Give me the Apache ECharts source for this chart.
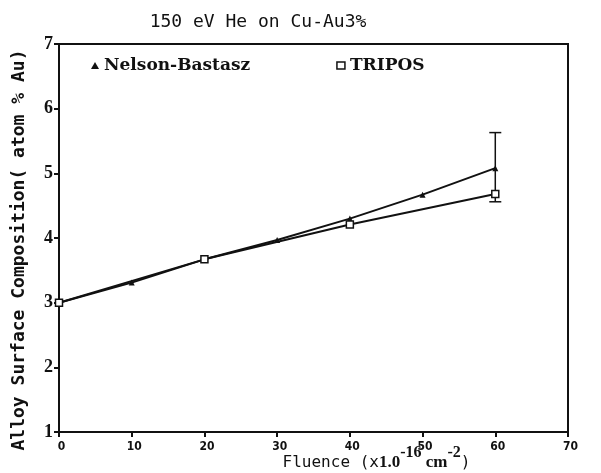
<!DOCTYPE html>
<html>
<head>
<meta charset="utf-8">
<script src="https://cdn.jsdelivr.net/npm/echarts@6/dist/echarts.min.js"></script>
<style>
  html, body { margin: 0; padding: 0; background: #fff; }
  #chart { width: 601px; height: 473px; }
</style>
</head>
<body>
<div id="chart"></div>
<script>
// Data
const nelsonFluence = [0, 10, 20, 30, 40, 50, 60];
const nelsonAu = [3.0, 3.31, 3.67, 3.97, 4.3, 4.67, 5.08];
const triposFluence = [0, 20, 40, 60];
const triposAu = [3.0, 3.67, 4.21, 4.68];
// error bar at the last point (low, high)
const errFluence = [60];
const errLow = [4.56];
const errHigh = [5.63];

const mono = '"DejaVu Sans Mono", monospace';
const serif = '"Liberation Serif", serif';

const chart = echarts.init(document.getElementById('chart'));

const option = {
    backgroundColor: '#fff',
    animation: false,
    title: {
        text: '150 eV He on Cu-Au3%',
        left: 253,
        textAlign: 'center',
        top: 8,
        textStyle: { fontFamily: mono, fontSize: 18, fontWeight: 'normal', color: '#111' }
    },
    legend: {
        left: 86,
        top: 52,
        itemGap: 86,
        itemWidth: 8,
        itemHeight: 7,
        textStyle: { fontFamily: '"DejaVu Serif", serif', fontSize: 17, fontWeight: 'bold', color: '#111' },
        data: [
            { name: 'Nelson-Bastasz', icon: 'triangle' },
            { name: 'TRIPOS', icon: 'rect', itemStyle: { color: '#fff', borderColor: '#111', borderWidth: 1.5 } }
        ]
    },
    grid: { left: 59, right: 33, top: 44, bottom: 41, outerBoundsMode: 'none', containLabel: false },
    xAxis: {
        type: 'value',
        min: 0, max: 70, interval: 10,
        name: '{a|Fluence (x}{b|1.0}{s|-16}{b| cm}{s|-2}{a|)}',
        nameLocation: 'middle',
        nameGap: 13,
        nameMoveOverlap: false,
        nameTextStyle: {
            padding: [0, 0, 0, 126],
            rich: {
                a: { fontFamily: mono, fontSize: 16, color: '#111', verticalAlign: 'bottom' },
                b: { fontFamily: serif, fontSize: 17, fontWeight: 'bold', color: '#111', verticalAlign: 'bottom' },
                s: { fontFamily: serif, fontSize: 16, fontWeight: 'bold', color: '#111', verticalAlign: 'top', padding: [0, 0, 10, 0] }
            }
        },
        axisLine: { show: true, lineStyle: { color: '#111', width: 2 } },
        axisTick: { show: true, inside: false, length: 5, lineStyle: { color: '#111', width: 2 } },
        axisLabel: { fontFamily: '"DejaVu Sans Condensed", "DejaVu Sans Mono", monospace', fontSize: 12, fontWeight: 'bold', color: '#111', margin: 9, padding: [0, 0, 0, 5] },
        splitLine: { show: false }
    },
    yAxis: {
        type: 'value',
        min: 1, max: 7, interval: 1,
        name: 'Alloy Surface Composition( atom % Au)',
        nameLocation: 'middle',
        nameGap: 31,
        nameMoveOverlap: false,
        nameTextStyle: { fontFamily: mono, fontSize: 18, fontWeight: 'bold', color: '#111', padding: [0, 24, 0, 0] },
        axisLine: { show: true, lineStyle: { color: '#111', width: 2 } },
        axisTick: { show: true, length: 5, lineStyle: { color: '#111', width: 2 } },
        axisLabel: { fontFamily: serif, fontSize: 18, fontWeight: 'bold', color: '#111', margin: 6 },
        splitLine: { show: false }
    },
    series: [
        {
            name: 'Nelson-Bastasz',
            type: 'line',
            data: nelsonFluence.map((x, i) => [x, nelsonAu[i]]),
            symbol: 'triangle',
            symbolSize: 6,
            showAllSymbol: true,
            lineStyle: { color: '#111', width: 2 },
            itemStyle: { color: '#111' }
        },
        {
            name: 'TRIPOS',
            type: 'line',
            data: triposFluence.map((x, i) => [x, triposAu[i]]),
            symbol: 'rect',
            symbolSize: 7,
            lineStyle: { color: '#111', width: 2 },
            itemStyle: { color: '#fff', borderColor: '#111', borderWidth: 1.5 }
        },
        {
            name: 'error',
            type: 'custom',
            data: errFluence.map((x, i) => [x, errLow[i], errHigh[i]]),
            renderItem: function (params, api) {
                const lo = api.coord([api.value(0), api.value(1)]);
                const hi = api.coord([api.value(0), api.value(2)]);
                const w = 6;
                const st = { stroke: '#111', lineWidth: 1.5 };
                return {
                    type: 'group',
                    children: [
                        { type: 'line', shape: { x1: lo[0], y1: lo[1], x2: hi[0], y2: hi[1] }, style: st },
                        { type: 'line', shape: { x1: lo[0] - w, y1: lo[1], x2: lo[0] + w, y2: lo[1] }, style: st },
                        { type: 'line', shape: { x1: hi[0] - w, y1: hi[1], x2: hi[0] + w, y2: hi[1] }, style: st }
                    ]
                };
            },
            z: 1
        }
    ],
    graphic: [
        {
            type: 'rect',
            shape: { x: 59, y: 44, width: 509, height: 388 },
            style: { fill: 'none', stroke: '#111', lineWidth: 2 },
            silent: true
        }
    ]
};

chart.setOption(option);
</script>
</body>
</html>
